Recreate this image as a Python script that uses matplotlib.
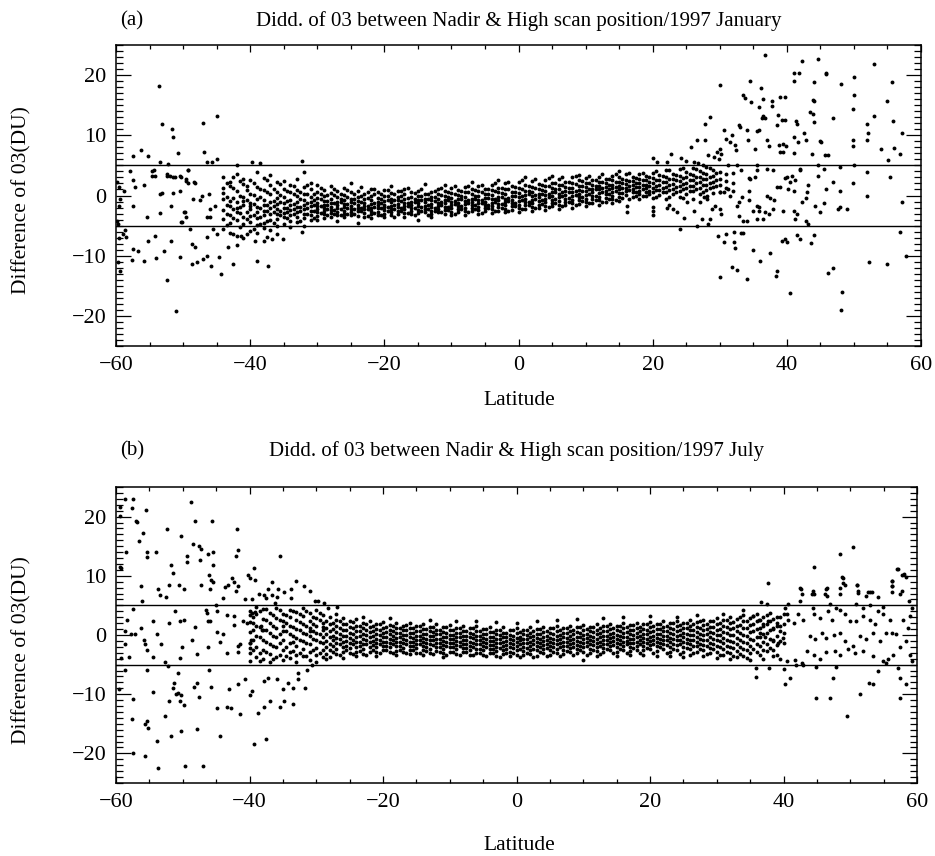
import matplotlib
matplotlib.use("Agg")
import matplotlib.pyplot as plt
from matplotlib.ticker import MultipleLocator

plt.rcParams['font.family'] = ['Liberation Serif', 'DejaVu Serif']

# ---------------- panel (a): 1997 January ----------------
# dense band, one column of values per degree of latitude
band_a = {
    -44: [3.1, 1.2, -0.6, -2.4, -3.9, -5.6, 0.4],
    -43: [2.2, -0.9, -1.8, -3.2, -4.6, 1.5, -6.3],
    -42: [3.6, 0.7, -1.1, -2.7, -4.1, -2.0, -6.8],
    -41: [1.9, -0.2, -1.5, -3.5, -4.8, 2.8, -0.9, -7.1],
    -40: [2.6, 0.3, -1.2, -2.3, -3.4, -4.4, -5.9, -1.8],
    -39: [1.4, -0.5, -1.9, -2.8, -3.7, -4.9, 3.9, -6.2],
    -38: [2.9, 0.9, -0.8, -1.6, -2.5, -3.3, -4.5, -5.4],
    -37: [1.7, 0.2, -1.0, -2.1, -3.0, -4.0, -5.7, 3.4],
    -36: [2.3, 0.6, -0.4, -1.4, -2.2, -3.1, -3.9, -5.1, -6.4],
    -35: [1.1, -0.3, -1.2, -2.0, -2.9, -3.6, -4.7, 2.4],
    -34: [1.8, 0.5, -0.7, -1.6, -2.4, -3.2, -4.2, -5.3],
    -33: [0.9, -0.1, -1.1, -1.9, -2.7, -3.5, -4.4, 2.7],
    -32: [1.4, 0.3, -0.8, -1.5, -2.3, -3.0, -3.8, -5.0, 3.9],
    -31: [1.0, -0.2, -1.0, -1.8, -2.5, -3.3, -4.1, 2.1],
    -30: [0.6, -0.4, -1.2, -1.7, -2.2, -2.8, -3.4, -4.0, 1.8],
    -29: [0.9, -0.1, -0.9, -1.5, -2.0, -2.6, -3.1, -3.7],
    -28: [0.4, -0.6, -1.3, -1.9, -2.4, -2.9, -3.5, 1.6],
    -27: [0.7, -0.2, -1.0, -1.6, -2.1, -2.7, -3.2, -4.2],
    -26: [1.2, 0.1, -0.8, -1.4, -1.9, -2.5, -3.0, -3.6],
    -25: [0.5, -0.5, -1.1, -1.7, -2.2, -2.8, -3.3, 2.0],
    -24: [0.8, -0.3, -0.9, -1.5, -2.0, -2.6, -3.4, -4.5],
    -23: [0.3, -0.6, -1.2, -1.8, -2.3, -2.9, -3.5],
    -22: [1.0, 0.0, -0.8, -1.4, -2.0, -2.5, -3.1, -3.8],
    -21: [0.6, -0.4, -1.0, -1.6, -2.1, -2.7, -3.2],
    -20: [0.9, -0.1, -0.9, -1.5, -1.9, -2.4, -3.0, -3.6],
    -19: [0.4, -0.5, -1.1, -1.7, -2.2, -2.8, -3.3, 1.5],
    -18: [0.7, -0.2, -0.8, -1.4, -1.9, -2.5, -3.0],
    -17: [1.1, 0.2, -0.6, -1.2, -1.8, -2.3, -2.9, -3.5],
    -16: [0.5, -0.3, -1.0, -1.5, -2.0, -2.6, -3.1],
    -15: [0.8, 0.0, -0.7, -1.3, -1.8, -2.4, -2.9, -4.1],
    -14: [1.9, 0.3, -0.5, -1.1, -1.7, -2.2, -2.8],
    -13: [0.6, -0.2, -0.8, -1.4, -1.9, -2.5, -3.0, -3.6],
    -12: [1.0, 0.2, -0.6, -1.2, -1.7, -2.3, -2.8],
    -11: [0.7, -0.1, -0.8, -1.3, -1.9, -2.4, -3.0, 1.8],
    -10: [1.2, 0.4, -0.4, -1.0, -1.6, -2.1, -2.7, -3.3],
    -9: [0.9, 0.1, -0.6, -1.2, -1.7, -2.2, -2.8],
    -8: [1.4, 0.5, -0.3, -0.9, -1.4, -2.0, -2.5, -3.2],
    -7: [1.0, 0.2, -0.5, -1.1, -1.6, -2.1, -2.6, 2.2],
    -6: [1.6, 0.7, -0.1, -0.8, -1.3, -1.9, -2.4, -3.0],
    -5: [1.1, 0.3, -0.4, -1.0, -1.5, -2.0, -2.6],
    -4: [1.8, 0.9, 0.1, -0.6, -1.2, -1.7, -2.3, -2.9],
    -3: [1.3, 0.5, -0.2, -0.8, -1.4, -1.9, -2.5, 2.6],
    -2: [2.0, 1.0, 0.2, -0.5, -1.1, -1.6, -2.2, -2.8],
    -1: [1.5, 0.6, -0.1, -0.7, -1.2, -1.8, -2.4],
    0: [2.2, 1.2, 0.4, -0.3, -0.9, -1.5, -2.0, -2.7],
    1: [1.7, 0.8, 0.1, -0.5, -1.1, -1.6, -2.2, 3.0],
    2: [2.4, 1.4, 0.6, -0.1, -0.7, -1.3, -1.9, -2.6],
    3: [1.9, 1.0, 0.3, -0.3, -0.9, -1.5, -2.1],
    4: [2.6, 1.6, 0.8, 0.1, -0.5, -1.1, -1.7, -2.4],
    5: [2.1, 1.2, 0.5, -0.1, -0.7, -1.2, -1.8, 3.3],
    6: [2.8, 1.8, 1.0, 0.3, -0.3, -0.9, -1.5, -2.2],
    7: [2.3, 1.4, 0.7, 0.1, -0.5, -1.0, -1.6],
    8: [3.0, 2.0, 1.2, 0.5, -0.1, -0.7, -1.3, -2.0],
    9: [2.5, 1.6, 0.9, 0.3, -0.3, -0.8, -1.4, 3.4],
    10: [2.9, 2.1, 1.4, 0.7, 0.1, -0.5, -1.1, -1.8],
    11: [2.6, 1.8, 1.1, 0.5, -0.1, -0.6, -1.2],
    12: [3.1, 2.3, 1.6, 1.0, 0.4, -0.2, -0.8, -1.6],
    13: [2.8, 2.0, 1.4, 0.8, 0.2, -0.4, -1.0],
    14: [3.3, 2.5, 1.8, 1.2, 0.6, 0.0, -0.6, -1.3],
    15: [3.0, 2.3, 1.6, 1.0, 0.4, -0.2, -0.9, 4.0],
    16: [3.5, 2.6, 1.9, 1.3, 0.7, 0.1],
    17: [3.1, 2.4, 1.7, 1.1, 0.5, -0.3],
    18: [3.6, 2.8, 2.1, 1.4, 0.8, 0.2, -0.5],
    19: [3.2, 2.5, 1.8, 1.2, 0.6, -0.1],
    20: [3.8, 2.9, 2.0, 1.3, 0.5, -0.4],
    21: [3.4, 2.6, 1.7, 0.9, 0.1],
    22: [4.2, 3.0, 2.2, 1.4, 0.6, -0.5],
    23: [3.6, 2.7, 1.9, 1.0, 0.2],
    24: [4.4, 3.3, 2.4, 1.5, 0.7, -0.2],
    25: [3.9, 3.0, 2.1, 1.2, 0.3],
    26: [4.6, 3.4, 2.5, 1.6, 0.8, -0.6],
    27: [4.1, 3.1, 2.2, 1.3, 0.2],
    28: [4.7, 3.6, 2.7, 1.8, 0.9],
    29: [4.3, 3.2, 2.3, 1.4, 0.4],
    30: [3.9, 2.8, 1.7, 0.6],
    31: [3.5, 2.4, 1.3],
    32: [3.8, 2.1, 0.8],
}

# second set of band columns, between the whole degrees
band_a_half = {
    -43.5: [2.0, -0.2, -1.5, -3.1, -4.9], -42.5: [1.3, -0.4, -2.2, -3.7, 3.0],
    -41.5: [2.4, 0.0, -1.9, -2.9, -5.2], -40.5: [0.9, -0.8, -2.7, -3.9, 1.6],
    -39.5: [2.1, 0.1, -1.4, -3.2, -5.5], -38.5: [1.1, -0.3, -2.1, -3.6, -4.8],
    -37.5: [2.5, 0.5, -1.5, -2.6, -4.3], -36.5: [1.0, -0.9, -1.8, -2.7, -4.5],
    -35.5: [1.9, 0.1, -1.0, -2.5, -3.3], -34.5: [0.8, -0.9, -2.0, -2.8, -3.8],
    -33.5: [1.5, 0.2, -1.4, -2.3, -3.1], -32.5: [0.5, -0.5, -1.9, -2.6, -4.2],
    -31.5: [1.7, 0.3, -1.3, -2.1, -3.0], -30.5: [0.2, -0.8, -1.5, -2.5, -3.7],
    -29.5: [1.2, 0.3, -0.6, -1.8, -2.9], -28.5: [0.1, -0.9, -1.6, -2.2, -3.2],
    -27.5: [1.0, 0.1, -1.3, -2.4, -3.0], -26.5: [0.3, -0.5, -1.1, -2.2, -3.3],
    -25.5: [0.9, -0.2, -1.4, -2.0, -3.0], -24.5: [0.2, -0.6, -1.2, -2.3, -3.1],
    -23.5: [1.4, 0.0, -1.0, -2.1, -2.6], -22.5: [0.5, -0.4, -1.7, -2.2, -3.4],
    -21.5: [1.1, 0.2, -1.3, -1.9, -2.9], -20.5: [0.3, -0.6, -1.2, -2.1, -3.3],
    -19.5: [0.9, 0.0, -0.8, -1.9, -2.6], -18.5: [0.2, -0.7, -1.6, -2.2, -3.6],
    -17.5: [0.8, -0.1, -0.9, -2.0, -2.6], -16.5: [1.3, -0.4, -1.3, -1.7, -2.9],
    -15.5: [0.4, -0.5, -1.0, -2.1, -3.3], -14.5: [1.1, -0.1, -0.8, -1.9, -2.5],
    -13.5: [0.3, -0.5, -1.6, -2.2, -3.2], -12.5: [0.8, -0.3, -0.9, -2.0, -2.6],
    -11.5: [1.3, 0.1, -1.1, -1.6, -2.7], -10.5: [0.6, -0.2, -0.7, -1.9, -2.4],
    -9.5: [1.5, 0.3, -0.9, -1.4, -3.0], -8.5: [0.7, -0.1, -0.6, -1.7, -2.3],
    -7.5: [1.6, 0.5, -0.8, -1.3, -2.8], -6.5: [0.9, 0.0, -0.5, -1.6, -2.2],
    -5.5: [1.8, 0.5, -0.7, -1.2, -2.9], -4.5: [1.0, 0.2, -0.4, -1.5, -2.1],
    -3.5: [2.1, 0.8, -0.5, -1.1, -2.6], -2.5: [1.2, 0.4, -0.2, -1.4, -2.0],
    -1.5: [2.3, 1.0, -0.4, -0.9, -2.5], -0.5: [1.4, 0.5, 0.0, -1.2, -1.8],
    0.5: [2.5, 1.1, -0.1, -0.7, -2.3], 1.5: [1.6, 0.7, 0.2, -1.0, -1.6],
    2.5: [2.7, 1.3, 0.1, -0.5, -2.1], 3.5: [1.8, 0.9, 0.3, -0.8, -1.4],
    4.5: [2.9, 1.5, 0.3, -0.3, -1.9], 5.5: [2.0, 1.1, 0.5, -0.6, -1.3],
    6.5: [3.1, 1.7, 0.5, -0.1, -1.7], 7.5: [2.2, 1.3, 0.6, -0.4, -1.1],
    8.5: [3.2, 1.9, 0.7, 0.1, -1.5], 9.5: [2.4, 1.5, 0.8, -0.2, -0.9],
    10.5: [3.3, 2.0, 1.0, 0.3, -1.3], 11.5: [2.6, 1.6, 1.0, 0.0, -0.8],
    12.5: [3.5, 2.2, 1.2, 0.6, -1.0], 13.5: [2.7, 1.8, 1.1, 0.3, -0.6],
    14.5: [3.6, 2.3, 1.4, 0.8, -0.8], 15.5: [2.8, 2.0, 1.3, 0.4, -0.4],
    16.5: [3.7, 2.4, 1.6, 0.9, -0.5], 17.5: [2.9, 2.1, 1.4, 0.6, -0.1],
    18.5: [3.8, 2.5, 1.7, 1.0, 0.0], 19.5: [3.0, 2.2, 1.5, 0.8, 0.2],
    20.5: [4.0, 2.6, 1.6, 0.9, -0.2], 21.5: [3.2, 2.3, 1.3, 0.5],
    22.5: [4.3, 2.8, 1.8, 0.9, -0.3], 23.5: [3.4, 2.5, 1.4, 0.6],
    24.5: [4.5, 2.9, 1.9, 1.1, -0.4], 25.5: [3.6, 2.6, 1.6, 0.7],
    26.5: [4.4, 3.0, 2.0, 1.0], 27.5: [3.8, 2.7, 1.7, 0.6],
    28.5: [4.6, 3.1, 2.1, 1.2], 29.5: [3.7, 2.5, 1.6],
}

# scattered points (latitude, difference)
scatter_a = [
    (-53.6, 18.2), (-53.2, 11.8), (-51.7, 11.0), (-51.5, 9.8), (-50.7, 7.1), (-57.4, 6.5),
    (-56.2, 7.5), (-55.3, 6.5), (-53.4, 5.6), (-52.2, 5.2), (-47.0, 12.1), (-45.0, 13.2),
    (-46.9, 7.2), (-46.4, 5.5), (-45.7, 5.6), (-45.0, 6.1), (-42.0, 5.0), (-39.7, 5.6),
    (-38.6, 5.4), (-32.2, 5.8), (-57.9, 4.1), (-57.5, 2.5), (-57.1, 1.4), (-55.9, 1.7),
    (-54.6, 4.1), (-54.7, 3.2), (-52.4, 3.3), (-51.5, 3.0), (-50.3, 3.0), (-49.3, 4.3),
    (-49.5, 2.4), (-48.3, 2.2), (-53.2, 0.4), (-51.5, 0.4), (-50.5, 0.7), (-58.8, 0.7),
    (-57.4, -1.7), (-55.4, -3.6), (-51.8, -1.8), (-53.4, -2.9), (-49.8, -2.8), (-49.5, -3.6),
    (-50.3, -4.4), (-58.6, -5.8), (-58.5, -6.9), (-59.5, -7.1), (-57.4, -8.9), (-56.7, -9.2),
    (-57.6, -10.7), (-55.9, -10.8), (-55.2, -7.6), (-54.2, -6.7), (-54.0, -10.3), (-59.4, -12.5),
    (-52.8, -9.3), (-51.8, -7.5), (-50.4, -10.2), (-52.4, -14.0), (-51.0, -19.2), (-48.7, -8.1),
    (-48.2, -8.6), (-48.6, -11.3), (-47.9, -11.1), (-46.5, -10.0), (-47.0, -10.6), (-45.9, -11.7),
    (-44.7, -10.2), (-44.4, -13.0), (-42.5, -11.4), (-42.0, -8.3), (-43.3, -8.6), (-46.5, -6.9),
    (-45.5, -5.6), (-45.0, -6.4), (-39.0, -10.9), (-37.3, -11.7), (-39.3, -7.5), (-38.0, -7.5),
    (-37.5, -6.9), (-36.8, -7.2), (-35.1, -7.2), (-32.3, -6.1), (-42.5, -6.4), (-41.3, -6.7),
    (-40.5, -6.4), (-54.4, 4.2), (-54.2, 3.3), (-52.4, 3.6), (-51.9, 3.2), (-51.2, 3.1),
    (-50.5, 3.2), (-49.2, 4.3), (-49.5, 2.8), (-49.2, 2.1), (-48.2, 2.1), (-53.4, 0.3),
    (-49.7, -2.8), (-50.2, -4.4), (-48.5, -0.6), (-47.5, -0.8), (-47.2, 0.0), (-46.2, 0.3),
    (-46.0, -2.2), (-45.2, -1.7), (-46.4, -3.6), (-46.0, -3.6), (-49.0, -5.5), (-59.6, 1.4),
    (-59.4, -0.6), (-59.6, -1.7), (-59.8, 2.2), (-59.8, -4.2), (-59.7, -4.7), (-59.7, -11.1),
    (-58.9, -6.4),
    (36.7, 23.3), (42.2, 22.3), (44.7, 22.7), (53.0, 21.9), (41.0, 20.4), (41.8, 20.4),
    (45.8, 20.4), (45.8, 20.1), (34.5, 19.0), (41.0, 19.0), (44.1, 18.8), (48.0, 18.6),
    (50.0, 19.7), (55.7, 18.8), (30.0, 18.3), (36.1, 17.8), (33.5, 16.7), (33.7, 16.2),
    (34.6, 15.6), (36.4, 16.1), (37.8, 15.7), (35.8, 14.7), (37.8, 14.8), (39.0, 16.4),
    (39.8, 16.4), (43.9, 15.9), (44.0, 15.7), (50.0, 16.7), (54.9, 15.7), (49.8, 14.3),
    (43.5, 13.9), (43.9, 13.6), (44.0, 12.2), (36.5, 13.2), (36.8, 12.9), (36.3, 12.9),
    (38.7, 13.3), (39.3, 12.5), (39.8, 12.5), (38.5, 11.7), (41.3, 12.3), (41.5, 11.9),
    (46.9, 12.8), (53.0, 13.2), (55.9, 12.3), (27.8, 11.8), (28.6, 13.0), (32.8, 11.7),
    (33.0, 11.4), (34.0, 10.8), (35.8, 10.8), (35.6, 10.7), (52.0, 11.8), (52.1, 10.4),
    (51.9, 9.2), (57.1, 10.3), (30.7, 10.8), (26.6, 9.3), (27.8, 9.3), (31.0, 9.4),
    (31.8, 10.1), (31.5, 8.9), (32.3, 8.4), (32.4, 7.5), (34.2, 9.2), (35.2, 7.8),
    (37.0, 9.3), (37.3, 8.2), (38.9, 8.4), (39.5, 8.6), (39.9, 8.3), (39.0, 7.3),
    (39.5, 7.3), (41.0, 9.7), (41.7, 8.9), (42.5, 10.3), (42.9, 9.3), (44.9, 9.0),
    (45.1, 8.9), (45.7, 6.8), (46.2, 6.8), (43.7, 6.9), (41.0, 7.1), (49.8, 9.2),
    (49.8, 8.3), (54.1, 7.8), (56.0, 7.9), (56.9, 6.9), (55.1, 5.9), (25.7, 8.1),
    (28.3, 6.8), (29.1, 6.4), (29.6, 7.2), (30.1, 7.8), (30.2, 6.9), (29.9, 6.1),
    (20.1, 6.2), (20.6, 5.6), (22.1, 5.6), (22.7, 6.9), (24.2, 6.2), (25.0, 5.7),
    (26.1, 5.6), (26.8, 5.4), (27.5, 5.0),
    (31.2, 5.0), (32.5, 5.1), (33.1, 4.2), (34.4, 2.9), (35.5, 5.0), (35.6, 4.2),
    (37.0, 4.4), (37.9, 4.2), (39.7, 2.9), (40.0, 3.1), (40.5, 2.3), (40.8, 3.3),
    (41.2, 2.5), (41.9, 4.4), (42.0, 4.2), (38.5, 1.4), (39.0, 1.4), (40.2, 1.1),
    (41.0, 0.8), (43.2, 1.7), (44.6, 3.3), (45.8, 1.1), (46.9, 2.2), (47.9, 0.7),
    (49.8, 2.1), (51.9, 3.9), (55.4, 3.1), (57.2, -1.0), (44.7, 5.0), (45.6, 4.4),
    (47.9, 4.7), (50.0, 5.0), (51.9, 0.0), (47.9, -1.9), (48.9, -2.2), (47.7, -2.2),
    (45.5, -1.2), (44.2, -1.7), (44.9, -2.8), (43.0, 0.6), (42.9, -0.4), (42.3, -1.1),
    (42.8, -4.2), (43.1, -4.7), (41.2, -3.9), (41.5, -3.1), (41.0, -2.5), (39.5, -2.5),
    (37.0, 0.0), (37.5, -0.4), (38.1, -0.7), (37.9, -2.2), (37.3, -3.1), (36.8, -2.8),
    (35.8, -1.9), (35.5, -1.7), (35.9, -2.5), (35.5, -3.9), (36.4, -3.9), (34.3, -0.8),
    (33.3, -0.3), (32.8, -1.1), (32.5, -1.7), (32.8, -3.4), (33.4, -4.3), (34.0, -4.3),
    (35.0, -2.5), (34.3, 0.7), (34.5, 2.8), (35.3, 3.1), (30.1, 0.6), (30.6, 0.6),
    (31.2, 1.0), (31.6, 0.0), (30.1, -2.2), (30.2, -3.1), (29.3, -1.7), (28.8, -2.2),
    (28.6, -3.9), (28.3, -4.7), (27.3, -3.9), (28.1, -0.6), (28.1, 0.0), (27.6, -0.3),
    (27.1, -1.1), (26.6, -5.0), (26.1, -2.5), (24.6, -3.8), (24.0, -5.6), (22.1, -2.1),
    (22.4, -1.6), (23.1, -2.2), (23.6, -2.8), (25.1, -1.1), (20.1, -1.9), (20.1, -3.3),
    (20.0, -2.5), (16.1, -1.8), (16.1, -2.8),
    (29.8, -6.8), (30.6, -7.8), (30.9, -6.4), (32.1, -6.1), (32.1, -7.7), (33.1, -6.2),
    (33.5, -6.2), (32.3, -8.8), (34.9, -9.0), (37.5, -9.6), (36.0, -10.8), (39.3, -7.5),
    (39.7, -7.2), (40.0, -7.8), (41.5, -6.6), (41.9, -7.2), (43.6, -7.9), (44.1, -6.6),
    (30.1, -13.6), (31.9, -11.8), (32.6, -12.3), (34.0, -13.8), (38.5, -12.5), (38.4, -13.3),
    (40.5, -16.2), (46.9, -12.1), (46.2, -12.8), (48.2, -16.1), (48.1, -19.1), (52.3, -11.1),
    (54.9, -11.3), (56.9, -6.0), (57.7, -10.1),
]

# ---------------- panel (b): 1997 July ----------------
band_b = {
    -40: [4.1, 2.2, 0.5, -1.3, -3.0, -4.4],
    -39: [3.5, 1.6, -0.2, -2.0, -3.7, 4.7],
    -38: [4.4, 2.7, 0.9, -0.8, -2.5, -4.1],
    -37: [3.8, 2.0, 0.3, -1.5, -3.2, -4.6],
    -36: [4.6, 2.9, 1.2, -0.4, -2.1, -3.8],
    -35: [3.6, 2.3, 0.7, -0.9, -2.6, -4.3, 1.5],
    -34: [4.3, 3.0, 1.6, 0.1, -1.4, -2.9, -3.9],
    -33: [3.9, 2.5, 1.0, -0.5, -1.9, -3.3, -4.5],
    -32: [4.5, 3.2, 1.8, 0.4, -1.0, -2.4, -3.6],
    -31: [3.7, 2.4, 1.1, -0.2, -1.6, -2.9, -4.2, 0.6],
    -30: [4.2, 2.9, 1.6, 0.3, -0.9, -2.2, -3.4],
    -29: [3.4, 2.1, 0.9, -0.3, -1.4, -2.6, -3.8, 1.4],
    -28: [3.0, 1.8, 0.7, -0.4, -1.5, -2.6, -3.7],
    -27: [2.6, 1.5, 0.5, -0.5, -1.4, -2.3, -3.2, 3.6],
    -26: [2.9, 1.8, 0.8, -0.2, -1.1, -2.0, -2.9, -3.9],
    -25: [2.3, 1.3, 0.4, -0.5, -1.3, -2.2, -3.1],
    -24: [2.7, 1.6, 0.6, -0.3, -1.2, -2.0, -2.8, -3.6],
    -23: [2.1, 1.1, 0.2, -0.6, -1.5, -2.3, -3.2, 3.0],
    -22: [2.4, 1.4, 0.5, -0.4, -1.2, -2.0, -2.9],
    -21: [1.9, 1.0, 0.2, -0.6, -1.3, -2.1, -2.8, -3.6],
    -20: [2.2, 1.2, 0.4, -0.4, -1.1, -1.9, -2.6],
    -19: [1.7, 0.9, 0.1, -0.7, -1.4, -2.1, -2.9, 2.8],
    -18: [2.0, 1.1, 0.3, -0.5, -1.2, -1.9, -2.7, -3.3],
    -17: [1.6, 0.8, 0.0, -0.7, -1.4, -2.2, -2.9],
    -16: [2.1, 1.2, 0.4, -0.4, -1.1, -1.8, -2.5, -3.2],
    -15: [1.5, 0.7, -0.1, -0.8, -1.5, -2.2, -3.0],
    -14: [1.9, 1.0, 0.2, -0.5, -1.2, -1.9, -2.6, -3.4],
    -13: [1.4, 0.6, -0.2, -0.9, -1.6, -2.3, -3.0, 2.6],
    -12: [1.8, 0.9, 0.1, -0.6, -1.3, -2.0, -2.7],
    -11: [1.3, 0.5, -0.3, -1.0, -1.7, -2.4, -3.1, -3.7],
    -10: [1.7, 0.8, 0.0, -0.7, -1.4, -2.1, -2.8],
    -9: [1.2, 0.4, -0.3, -1.0, -1.7, -2.4, -3.2, 2.4],
    -8: [1.6, 0.7, -0.1, -0.8, -1.5, -2.2, -2.9],
    -7: [1.1, 0.3, -0.4, -1.1, -1.8, -2.5, -3.3],
    -6: [1.5, 0.6, -0.2, -0.9, -1.6, -2.3, -3.0, 2.3],
    -5: [1.0, 0.2, -0.5, -1.2, -1.9, -2.6, -3.4],
    -4: [1.4, 0.5, -0.3, -1.0, -1.7, -2.4, -3.1],
    -3: [0.9, 0.1, -0.6, -1.3, -2.0, -2.7, -3.5, 2.2],
    -2: [1.3, 0.4, -0.4, -1.1, -1.8, -2.5, -3.2],
    -1: [0.8, 0.0, -0.7, -1.4, -2.1, -2.8, -3.6],
    0: [1.2, 0.3, -0.5, -1.2, -1.9, -2.6, -3.3, 2.0],
    1: [0.9, 0.1, -0.6, -1.3, -2.0, -2.7, -3.4],
    2: [1.3, 0.4, -0.4, -1.1, -1.8, -2.5, -3.2],
    3: [1.0, 0.2, -0.5, -1.2, -1.9, -2.6, -3.5, 2.4],
    4: [1.4, 0.5, -0.3, -1.0, -1.7, -2.4, -3.1],
    5: [1.1, 0.3, -0.5, -1.2, -1.9, -2.6, -3.3],
    6: [1.5, 0.6, -0.2, -0.9, -1.6, -2.3, -3.0, 2.6],
    7: [1.2, 0.4, -0.4, -1.1, -1.8, -2.5, -3.2],
    8: [1.6, 0.7, -0.1, -0.8, -1.5, -2.2, -2.9],
    9: [1.3, 0.5, -0.3, -1.0, -1.7, -2.4, -3.1, 2.7],
    10: [1.7, 0.8, 0.0, -0.7, -1.4, -2.1, -2.8, -4.2],
    11: [1.4, 0.6, -0.2, -0.9, -1.6, -2.3, -3.0],
    12: [1.8, 0.9, 0.1, -0.6, -1.3, -2.0, -2.7, -3.5],
    13: [1.5, 0.7, -0.1, -0.8, -1.5, -2.2, -2.9, 2.9],
    14: [1.9, 1.0, 0.2, -0.5, -1.2, -1.9, -2.6],
    15: [1.6, 0.8, 0.0, -0.7, -1.4, -2.1, -2.8, -3.5],
    16: [2.0, 1.1, 0.3, -0.4, -1.1, -1.8, -2.5, 3.0],
    17: [1.7, 0.9, 0.1, -0.6, -1.3, -2.0, -2.7, -3.4],
    18: [2.1, 1.2, 0.4, -0.4, -1.1, -1.8, -2.5],
    19: [1.8, 1.0, 0.2, -0.5, -1.2, -1.9, -2.6, -3.4],
    20: [2.2, 1.3, 0.5, -0.3, -1.0, -1.7, -2.4, 3.2],
    21: [1.9, 1.0, 0.2, -0.5, -1.2, -1.9, -2.7, -3.5],
    22: [2.3, 1.4, 0.6, -0.2, -0.9, -1.6, -2.3],
    23: [2.0, 1.1, 0.3, -0.5, -1.2, -2.0, -2.8, -3.6],
    24: [2.4, 1.5, 0.7, -0.1, -0.9, -1.7, -2.5, 3.1],
    25: [2.1, 1.2, 0.4, -0.4, -1.2, -2.0, -2.8, -3.7],
    26: [2.5, 1.6, 0.8, 0.0, -0.8, -1.6, -2.4, -3.3],
    27: [2.2, 1.3, 0.5, -0.3, -1.1, -1.9, -2.8, 3.4],
    28: [2.6, 1.7, 0.8, 0.0, -0.8, -1.7, -2.6, -3.6],
    29: [2.3, 1.4, 0.5, -0.4, -1.3, -2.2, -3.1],
    30: [2.8, 1.8, 0.9, 0.0, -0.9, -1.8, -2.8, -3.9],
    31: [2.5, 1.5, 0.5, -0.5, -1.4, -2.4, -3.4, 3.6],
    32: [3.1, 2.0, 1.0, 0.0, -1.0, -2.0, -3.1, -4.1],
    33: [2.7, 1.6, 0.6, -0.5, -1.6, -2.7, -3.8],
    34: [3.4, 2.3, 1.1, 0.0, -1.1, -2.3, -3.5, 4.3],
    35: [2.9, 1.7, 0.5, -0.7, -1.9, -3.1, -4.2],
    36: [3.6, 2.3, 1.0, -0.3, -1.6, -2.9],
    37: [3.0, 1.6, 0.2, -1.2, -2.6, -4.0],
    38: [3.8, 2.3, 0.8, -0.7, -2.2],
    39: [3.1, 1.5, -0.1, -1.7, -3.3],
    40: [3.5, 1.9, 0.3, -1.3],
}

band_b_half = {
    -39.5: [3.0, 0.9, -0.9, -2.6, 2.1], -38.5: [4.0, 1.3, -0.4, -3.0, -4.4],
    -37.5: [2.6, 0.8, -1.1, -2.8, 4.4], -36.5: [3.3, 1.5, -0.2, -1.8, -4.0],
    -35.5: [4.2, 2.6, 0.1, -1.4, -3.3], -34.5: [3.3, 2.0, 0.6, -2.1, -3.6],
    -33.5: [4.0, 1.3, -0.1, -1.2, -2.7], -32.5: [3.5, 2.2, 0.8, -0.8, -3.0],
    -31.5: [4.1, 1.6, 0.2, -1.3, -3.5], -30.5: [3.1, 1.9, 0.7, -0.6, -2.6],
    -29.5: [3.8, 2.5, 0.2, -1.1, -3.0], -28.5: [2.4, 1.2, 0.1, -1.0, -2.1, -3.2],
    -27.5: [2.1, 1.0, -0.1, -0.9, -1.9, -2.8], -26.5: [2.3, 1.2, 0.2, -0.7, -1.6, -3.4],
    -25.5: [1.8, 0.9, -0.1, -1.0, -1.8, -2.6], -24.5: [2.2, 1.1, 0.1, -0.8, -1.6, -3.2],
    -23.5: [1.6, 0.7, -0.2, -1.1, -1.9, -2.7], -22.5: [1.9, 0.9, 0.0, -0.8, -1.6, -3.3],
    -21.5: [1.5, 0.6, -0.2, -1.0, -1.7, -2.5], -20.5: [1.8, 0.8, 0.0, -0.8, -1.5, -3.1],
    -19.5: [1.3, 0.5, -0.3, -1.1, -1.8, -2.5], -18.5: [1.6, 0.7, -0.1, -0.9, -1.6, -3.0],
    -17.5: [1.2, 0.4, -0.3, -1.1, -1.8, -2.6], -16.5: [1.7, 0.8, 0.0, -0.8, -1.5, -3.0],
    -15.5: [1.1, 0.3, -0.5, -1.2, -1.9, -2.6], -14.5: [1.5, 0.6, -0.1, -0.9, -1.6, -3.1],
    -13.5: [1.0, 0.2, -0.6, -1.3, -2.0, -2.7], -12.5: [1.4, 0.5, -0.2, -0.9, -1.7, -3.2],
    -11.5: [0.9, 0.1, -0.6, -1.4, -2.1, -2.8], -10.5: [1.3, 0.4, -0.3, -1.1, -1.8, -3.3],
    -9.5: [0.8, 0.0, -0.7, -1.4, -2.1, -2.8], -8.5: [1.2, 0.3, -0.4, -1.2, -1.9, -3.3],
    -7.5: [0.7, -0.1, -0.8, -1.5, -2.2, -2.9], -6.5: [1.1, 0.2, -0.5, -1.3, -2.0, -3.4],
    -5.5: [0.6, -0.2, -0.9, -1.6, -2.3, -3.0], -4.5: [1.0, 0.1, -0.6, -1.3, -2.1, -3.6],
    -3.5: [0.5, -0.3, -1.0, -1.7, -2.4, -3.1], -2.5: [0.9, 0.0, -0.7, -1.4, -2.2, -3.7],
    -1.5: [0.4, -0.4, -1.0, -1.7, -2.4, -3.1], -0.5: [0.8, -0.1, -0.8, -1.5, -2.2, -3.0],
    0.5: [0.5, -0.3, -0.9, -1.6, -2.3, -3.7], 1.5: [0.9, 0.0, -0.7, -1.4, -2.2, -3.0],
    2.5: [0.6, -0.2, -0.9, -1.6, -2.3, -3.8], 3.5: [1.0, 0.1, -0.6, -1.4, -2.1, -2.9],
    4.5: [0.7, -0.1, -0.8, -1.5, -2.2, -3.6], 5.5: [1.1, 0.2, -0.6, -1.3, -2.0, -2.8],
    6.5: [0.8, 0.0, -0.7, -1.4, -2.1, -3.5], 7.5: [1.2, 0.3, -0.5, -1.2, -1.9, -2.7],
    8.5: [0.9, 0.1, -0.6, -1.3, -2.0, -3.4], 9.5: [1.3, 0.4, -0.4, -1.1, -1.8, -2.6],
    10.5: [1.0, 0.2, -0.5, -1.2, -1.9, -3.3], 11.5: [1.4, 0.5, -0.3, -1.0, -1.7, -2.5],
    12.5: [1.1, 0.3, -0.4, -1.1, -1.8, -3.2], 13.5: [1.5, 0.6, -0.2, -0.9, -1.6, -2.4],
    14.5: [1.2, 0.4, -0.4, -1.0, -1.7, -3.1], 15.5: [1.6, 0.7, -0.1, -0.8, -1.5, -2.3],
    16.5: [1.3, 0.5, -0.3, -1.0, -1.6, -3.0], 17.5: [1.7, 0.8, 0.0, -0.7, -1.4, -2.2],
    18.5: [1.4, 0.6, -0.2, -0.9, -1.6, -3.1], 19.5: [1.8, 0.9, 0.1, -0.6, -1.3, -2.2],
    20.5: [1.5, 0.7, -0.1, -0.8, -1.5, -3.0], 21.5: [1.9, 1.0, 0.1, -0.7, -1.4, -2.1],
    22.5: [1.6, 0.7, -0.1, -0.9, -1.7, -3.1], 23.5: [2.0, 1.0, 0.1, -0.7, -1.5, -2.3],
    24.5: [1.7, 0.8, 0.0, -0.8, -1.6, -3.2], 25.5: [2.1, 1.1, 0.2, -0.6, -1.4, -2.2],
    26.5: [1.8, 0.9, 0.0, -0.9, -1.8, -3.0], 27.5: [2.3, 1.2, 0.2, -0.6, -1.5, -2.3],
    28.5: [1.9, 1.0, 0.1, -0.8, -1.8, -3.2], 29.5: [2.4, 1.3, 0.3, -0.6, -1.5, -2.4],
    30.5: [2.0, 1.0, 0.0, -1.0, -2.0, -3.3], 31.5: [2.6, 1.4, 0.3, -0.8, -1.8, -2.9],
    32.5: [2.2, 1.1, 0.0, -1.1, -2.2, -3.6], 33.5: [3.0, 1.7, 0.4, -0.8, -2.0, -3.2],
    34.5: [2.4, 1.1, -0.1, -1.4, -2.6, -3.9], 35.5: [3.2, 1.9, 0.6, -0.9, -2.4],
    36.5: [2.6, 1.2, -0.3, -1.9, -3.4], 37.5: [3.3, 1.8, 0.4, -1.6],
    38.5: [2.7, 1.0, -0.8, -2.6], 39.5: [3.0, 0.7, -1.0],
}

scatter_b = [
    (-57.4, 23.0), (-59.4, 21.6), (-57.6, 21.5), (-55.5, 21.1), (-48.7, 22.5), (-56.9, 19.1),
    (-48.1, 19.2), (-45.6, 19.2), (-55.9, 17.3), (-56.6, 15.9), (-52.3, 17.9), (-50.2, 16.8),
    (-41.8, 17.9), (-58.5, 14.1), (-55.3, 14.1), (-55.4, 13.2), (-54.0, 14.1), (-48.5, 15.3),
    (-47.5, 15.0), (-47.3, 14.5), (-49.4, 13.4), (-49.3, 12.4), (-47.4, 12.6), (-46.2, 13.7),
    (-45.5, 14.1), (-41.7, 14.4), (-42.0, 13.3), (-45.4, 11.8), (-35.5, 13.4), (-59.2, 11.3),
    (-56.3, 8.2), (-51.8, 11.9), (-51.5, 10.5), (-52.0, 8.4), (-50.6, 8.5), (-49.8, 7.8),
    (-53.7, 7.7), (-53.4, 6.8), (-52.5, 6.4), (-56.1, 5.8), (-46.1, 10.2), (-45.8, 9.3),
    (-45.5, 8.9), (-45.9, 7.7), (-47.3, 8.5), (-43.7, 8.1), (-43.2, 8.5), (-42.6, 9.6),
    (-42.3, 8.9), (-43.9, 6.2), (-41.7, 8.3), (-40.2, 10.2), (-40.0, 9.7), (-39.4, 11.3),
    (-39.2, 9.3), (-42.0, 7.4), (-40.6, 6.1), (-39.6, 6.1), (-38.6, 6.9), (-37.9, 6.8),
    (-37.6, 6.2), (-37.2, 7.7), (-36.6, 8.9), (-35.8, 7.7), (-34.9, 7.2), (-35.9, 6.5),
    (-33.8, 7.7), (-33.8, 6.2), (-33.1, 9.2), (-31.9, 8.3), (-31.0, 7.4), (-36.6, 6.7),
    (-36.2, 5.4), (-30.2, 5.8), (-29.7, 5.7), (-28.9, 5.4), (-28.2, 4.6), (-26.9, 4.8),
    (-58.65, 22.9), (-59.4, 20.1), (-57.0, 19.3), (-59.4, 11.5),
    (-57.4, 4.4), (-58.3, 2.6), (-58.6, 0.6), (-57.8, 0.2), (-57.1, 0.2), (-56.3, 1.1),
    (-55.8, -0.8), (-55.4, -2.5), (-55.6, -1.6), (-59.2, -3.9), (-58.0, -3.8), (-58.6, -1.6),
    (-54.4, 2.3), (-53.9, 0.2), (-53.3, -1.6), (-54.5, -3.8), (-52.0, 2.0), (-51.1, 4.0),
    (-50.4, 2.3), (-49.8, 2.6), (-50.1, -2.1), (-50.4, -3.9), (-48.1, 1.3), (-48.6, -0.8),
    (-47.9, -3.2), (-46.2, 2.4), (-45.9, 2.4), (-46.4, 3.7), (-46.5, 4.3), (-46.2, -2.1),
    (-43.9, 0.2), (-44.4, -1.1), (-44.8, 0.5), (-43.3, 3.4), (-43.4, -3.0), (-42.3, 1.7),
    (-42.3, 3.2), (-41.7, -1.9), (-41.7, -2.8), (-41.4, -1.6), (-40.9, 2.4), (-40.4, 2.0),
    (-40.0, 3.4), (-39.7, 3.7), (-39.2, 3.9), (-38.3, 1.6), (-38.2, 0.9), (-39.8, -0.8),
    (-40.0, -1.4), (-40.0, -2.2), (-44.9, 4.0), (-45.0, 5.1),
    (-58.7, -5.9), (-59.6, -9.2), (-57.5, -10.8), (-57.6, -14.2), (-55.4, -14.6), (-55.6, -15.0),
    (-55.2, -15.7), (-54.5, -9.6), (-53.9, -17.9), (-57.5, -19.9), (-55.7, -20.5), (-53.7, -22.4),
    (-52.7, -13.7), (-51.7, -17.1), (-52.0, -11.1), (-51.5, -9.0), (-51.3, -8.1), (-51.0, -10.0),
    (-50.7, -9.8), (-50.2, -10.1), (-50.4, -11.1), (-49.8, -11.8), (-52.7, -4.6), (-52.2, -5.3),
    (-50.7, -6.4), (-55.4, -5.9), (-50.2, -16.3), (-49.6, -22.2), (-46.9, -22.1), (-47.8, -15.9),
    (-48.3, -8.7), (-47.9, -8.1), (-47.5, -10.5), (-46.0, -5.9), (-45.7, -8.8), (-44.9, -12.4),
    (-44.4, -17.0), (-43.4, -12.1), (-42.8, -12.3), (-43.0, -9.2), (-41.7, -8.3), (-41.4, -13.3),
    (-40.7, -7.4), (-39.9, -10.2), (-39.7, -9.4), (-39.4, -18.4), (-38.8, -13.2), (-37.5, -17.5),
    (-37.9, -12.1), (-36.9, -11.1), (-37.8, -7.8), (-37.2, -7.2), (-35.9, -7.5), (-35.0, -9.1),
    (-35.5, -12.1), (-34.9, -11.2), (-33.5, -11.7), (-34.2, -8.1), (-33.5, -9.0), (-32.7, -7.5),
    (-31.7, -9.0), (-32.7, -6.4), (-31.4, -5.9), (-30.6, -5.0), (-30.1, -4.5), (-28.6, -4.0),
    (44.6, 11.5), (37.7, 8.7), (42.6, 7.7), (44.4, 7.5), (44.3, 6.9), (46.3, 7.8),
    (46.2, 7.0), (48.8, 9.8), (48.9, 8.8), (49.2, 8.4), (48.4, 6.9), (51.0, 8.4),
    (51.2, 7.5), (52.7, 7.2), (53.2, 7.3), (54.2, 6.4), (56.3, 9.2), (56.2, 8.3),
    (57.2, 11.1), (57.7, 10.2), (57.8, 7.5), (36.7, 5.5), (37.5, 5.3), (40.7, 5.2),
    (42.5, 5.7), (40.2, 4.6), (44.4, 4.6), (46.9, 5.3), (47.9, 4.6), (50.9, 5.2),
    (51.9, 4.6), (52.9, 5.1), (54.9, 4.7), (50.4, 14.9), (48.4, 13.6), (57.0, 11.1),
    (58.0, 10.3), (58.3, 9.8), (56.2, 9.1), (56.3, 8.3), (56.2, 7.2), (57.4, 6.9),
    (48.9, 9.7), (48.5, 8.0), (51.0, 8.4), (51.1, 7.1), (52.9, 7.3), (52.4, 6.6),
    (46.5, 8.0), (46.5, 6.6), (42.5, 8.0), (42.7, 6.9), (44.5, 6.9),
    (35.5, 3.2), (36.3, 2.6), (37.0, 1.8), (37.7, 2.4), (38.5, 1.2), (39.0, 2.1),
    (39.5, 1.5), (40.5, 3.6), (40.7, 2.6), (41.5, 2.1), (42.2, 3.5), (42.9, 2.6),
    (36.5, 0.4), (37.2, -0.3), (38.5, -1.0), (39.2, -1.3), (39.9, -0.5), (37.5, -2.7),
    (38.5, -3.5), (39.5, -4.1), (40.5, -4.4), (41.7, -4.3), (42.7, -4.8), (44.0, -0.2),
    (44.7, -0.7), (45.7, 0.4), (46.4, -0.5), (47.5, 0.0), (48.4, 0.4), (49.2, -1.0),
    (44.5, 3.5), (45.5, 2.9), (46.7, 4.1), (47.2, 2.6), (48.4, 4.3), (49.2, 3.5),
    (49.9, 2.4), (43.5, -2.7), (44.5, -3.4), (45.5, -4.1), (46.4, -2.8), (47.7, -2.7),
    (48.4, -3.3), (49.7, -2.3), (50.4, -1.9), (50.7, -3.0), (50.9, 2.4), (51.9, 3.2),
    (52.9, 2.6), (53.7, 1.8), (54.2, 4.1), (54.9, 3.5), (55.9, 2.6), (51.4, -0.2),
    (52.4, -0.7), (53.4, 0.4), (54.4, -1.0), (55.4, 0.4), (56.2, 0.4), (56.9, 0.1),
    (51.9, -2.7), (53.4, -3.5), (54.9, -4.4), (55.7, -4.1), (56.4, -3.3), (57.4, -2.1),
    (58.4, -1.0), (58.7, 1.2), (57.9, 2.6), (58.9, 3.2), (58.9, -3.3), (59.2, -4.4),
    (59.3, 4.6), (58.8, 5.7),
    (35.9, -5.6), (35.9, -7.1), (37.9, -5.5), (40.0, -5.8), (40.2, -8.3), (40.9, -7.3),
    (41.9, -5.0), (42.9, -5.1), (44.9, -5.4), (44.9, -10.6), (46.9, -10.7), (47.4, -7.2),
    (47.8, -5.4), (51.4, -10.0), (52.8, -8.1), (54.2, -6.1), (55.4, -4.7), (57.2, -5.5),
    (57.4, -7.3), (58.4, -8.3), (49.5, -13.6), (57.5, -10.7), (53.4, -8.2),
]

titles = ["Didd. of 03 between Nadir & High scan position/1997 January",
          "Didd. of 03 between Nadir & High scan position/1997 July"]
tags = ["(a)", "(b)"]
limit_lines = [5, -5]

W, H = 935, 856
fig = plt.figure(figsize=(W / 100, H / 100), dpi=100)

# axes rectangles in pixels: left, top, right, bottom
boxes = [(116, 45, 921, 346), (116, 487, 917, 783)]
title_y = [21, 451]
ylabel_y = [200, 650]
xlabel_y = [400, 845]


def flatten(bands, scatter):
    lats, vals = [], []
    for band in bands:
        for lat, col in band.items():
            for v in col:
                lats.append(lat)
                vals.append(v)
    for lat, v in scatter:
        lats.append(lat)
        vals.append(v)
    return lats, vals


panels = [((band_a, band_a_half), scatter_a), ((band_b, band_b_half), scatter_b)]
for i, (bands, pts) in enumerate(panels):
    l, t, r, b = boxes[i]
    ax = fig.add_axes([l / W, 1 - b / H, (r - l) / W, (b - t) / H])
    lats, vals = flatten(bands, pts)
    ax.plot(lats, vals, 'o', color='black', markersize=2.8, markeredgewidth=0)
    for y in limit_lines:
        ax.axhline(y, color='black', linewidth=1.0)

    ax.set_xlim(-60, 60)
    ax.set_ylim(-25, 25)
    ax.xaxis.set_major_locator(MultipleLocator(20))
    ax.xaxis.set_minor_locator(MultipleLocator(5))
    ax.yaxis.set_major_locator(MultipleLocator(10))
    ax.yaxis.set_minor_locator(MultipleLocator(1))
    ax.tick_params(which='both', direction='in', top=True, right=True,
                   labelsize=16, width=0.9, colors='black')
    ax.tick_params(axis='x', which='major', length=5, pad=7)
    ax.tick_params(axis='x', which='minor', length=3)
    ax.tick_params(axis='y', which='major', length=11, pad=7)
    ax.tick_params(axis='y', which='minor', length=5)
    for s in ax.spines.values():
        s.set_linewidth(1.1)

    cx = (l + r) / 2 / W
    fig.text(cx, 1 - title_y[i] / H, titles[i], ha='center', va='center', fontsize=15)
    fig.text(132 / W, 1 - title_y[i] / H, tags[i], ha='center', va='center', fontsize=15)
    fig.text(22 / W, 1 - ylabel_y[i] / H, "Difference of 03(DU)", rotation=90,
             ha='center', va='center', fontsize=15.5)
    fig.text(519 / W, 1 - xlabel_y[i] / H, "Latitude", ha='center', va='center', fontsize=15.5)

fig.savefig("out.png", dpi=100)
